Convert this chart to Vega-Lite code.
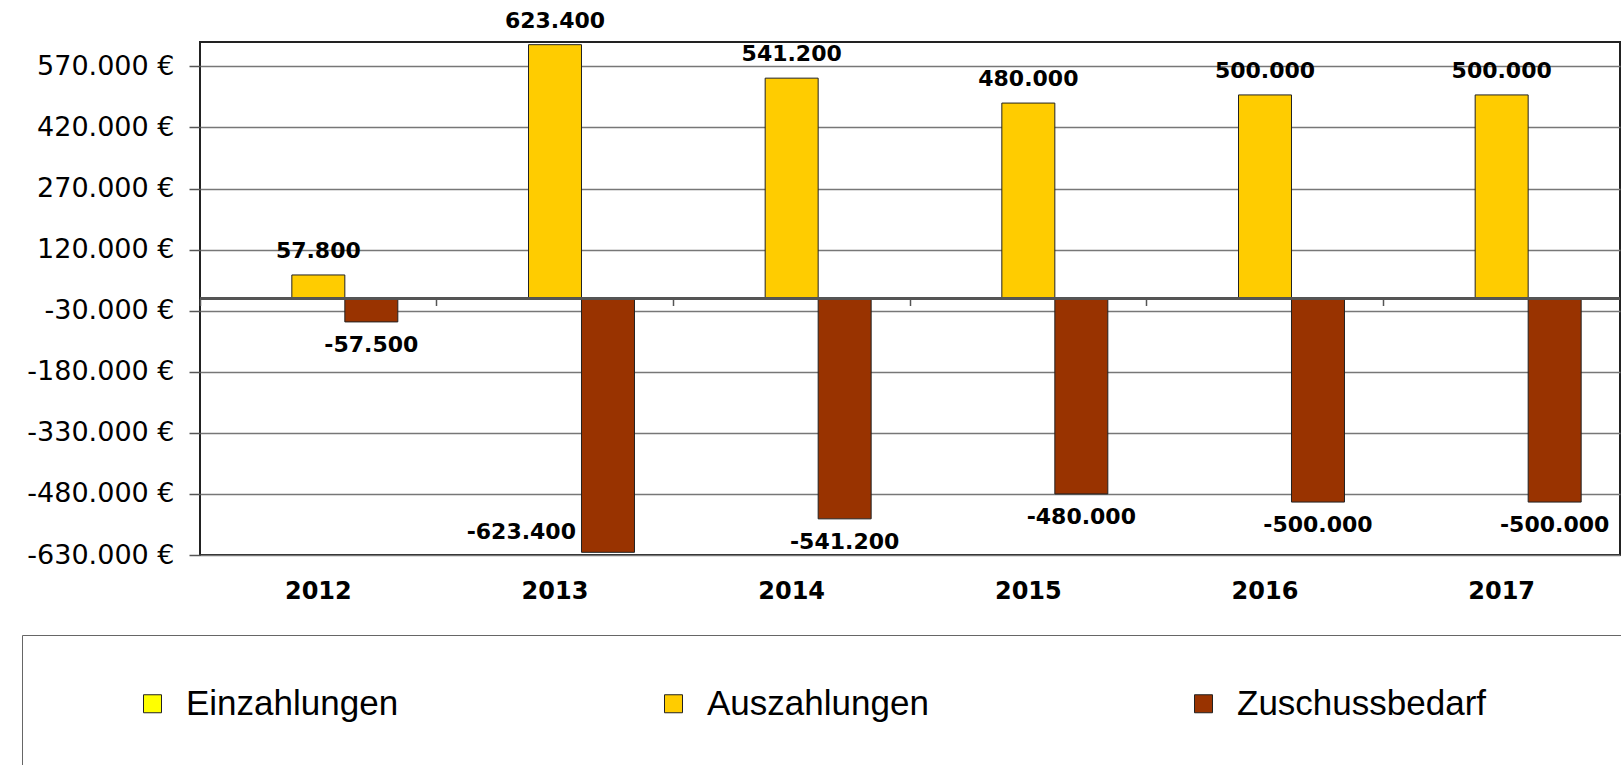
{
  "$schema": "https://vega.github.io/schema/vega-lite/v6.json",
  "autosize": "none",
  "width": 1420,
  "height": 513,
  "padding": {"left": 200, "top": 42, "right": 1, "bottom": 210},
  "background": "white",
  "config": {
    "view": {"stroke": "#222222", "strokeWidth": 2},
    "axis": {"labelColor": "black", "titleColor": "black"}
  },
  "data": {
    "values": [
      {"year": "2012", "series": "Einzahlungen", "value": 0},
      {"year": "2012", "series": "Auszahlungen", "value": 57800},
      {"year": "2012", "series": "Zuschussbedarf", "value": -57500},
      {"year": "2013", "series": "Einzahlungen", "value": 0},
      {"year": "2013", "series": "Auszahlungen", "value": 623400},
      {"year": "2013", "series": "Zuschussbedarf", "value": -623400},
      {"year": "2014", "series": "Einzahlungen", "value": 0},
      {"year": "2014", "series": "Auszahlungen", "value": 541200},
      {"year": "2014", "series": "Zuschussbedarf", "value": -541200},
      {"year": "2015", "series": "Einzahlungen", "value": 0},
      {"year": "2015", "series": "Auszahlungen", "value": 480000},
      {"year": "2015", "series": "Zuschussbedarf", "value": -480000},
      {"year": "2016", "series": "Einzahlungen", "value": 0},
      {"year": "2016", "series": "Auszahlungen", "value": 500000},
      {"year": "2016", "series": "Zuschussbedarf", "value": -500000},
      {"year": "2017", "series": "Einzahlungen", "value": 0},
      {"year": "2017", "series": "Auszahlungen", "value": 500000},
      {"year": "2017", "series": "Zuschussbedarf", "value": -500000}
    ]
  },
  "transform": [
    {"calculate": "(datum.value < 0 ? '-' : '') + replace(format(abs(datum.value), ','), ',', '.')", "as": "label"}
  ],
  "resolve": {"axis": {"x": "independent"}},
  "layer": [
    {
      "transform": [{"filter": "datum.value != 0"}],
      "mark": {"type": "bar", "stroke": "#222222", "strokeWidth": 1},
      "encoding": {
        "x": {
          "field": "year", "type": "nominal",
          "scale": {"paddingInner": 0, "paddingOuter": 0},
          "axis": {
            "orient": "bottom", "title": null, "labelAngle": 0,
            "labelFont": "DejaVu Sans", "labelFontWeight": "bold", "labelFontSize": 24,
            "labelPadding": 24, "labelBaseline": "top", "ticks": false, "domain": false, "grid": false
          }
        },
        "xOffset": {
          "field": "series", "type": "nominal",
          "scale": {"domain": ["Einzahlungen", "Auszahlungen", "Zuschussbedarf"], "paddingInner": 0, "paddingOuter": 0.733}
        },
        "y": {
          "field": "value", "type": "quantitative",
          "scale": {"domain": [-630000, 630000], "nice": false, "zero": false},
          "axis": {
            "title": null,
            "values": [-630000, -480000, -330000, -180000, -30000, 120000, 270000, 420000, 570000],
            "labelExpr": "(datum.value < 0 ? '-' : '') + replace(format(abs(datum.value), ','), ',', '.') + ' €'",
            "labelFont": "DejaVu Sans", "labelFontSize": 27, "labelPadding": 15,
            "tickSize": 11, "tickColor": "#555555", "tickWidth": 1.5,
            "domain": false,
            "grid": true, "gridColor": "#777777", "gridWidth": 1.5
          }
        },
        "color": {
          "field": "series", "type": "nominal",
          "scale": {"domain": ["Einzahlungen", "Auszahlungen", "Zuschussbedarf"], "range": ["#FFFF00", "#FFCC00", "#993300"]},
          "legend": {
            "orient": "none", "legendX": -178, "legendY": 593,
            "direction": "horizontal", "columns": 3, "gridAlign": "each", "columnPadding": 257,
            "symbolType": "square", "symbolSize": 324, "symbolStrokeColor": "#222222", "symbolStrokeWidth": 1,
            "labelFont": "Liberation Sans", "labelFontSize": 35, "labelOffset": 16, "labelColor": "black", "labelLimit": 0,
            "labelExpr": "datum.label == 'Zuschussbedarf' ? datum.label + '                \u200b' : datum.label",
            "padding": 51, "strokeColor": "#666666", "fillColor": "white",
            "title": " ", "titleOrient": "left", "titleFontSize": 1, "titlePadding": 62
          }
        }
      }
    },
    {
      "mark": {"type": "rule", "color": "#555555", "strokeWidth": 1.5},
      "encoding": {"y": {"datum": 0}}
    },
    {
      "transform": [{"filter": "datum.series == 'Auszahlungen'"}],
      "mark": {"type": "text", "font": "DejaVu Sans", "fontWeight": "bold", "fontSize": 22, "color": "black", "baseline": "bottom", "dy": -12},
      "encoding": {
        "x": {
          "field": "year", "type": "nominal",
          "scale": {"paddingInner": 0, "paddingOuter": 0},
          "axis": {
            "orient": "bottom", "offset": -256.5, "title": null, "labels": false,
            "ticks": true, "tickSize": 7, "tickColor": "#555555", "tickWidth": 1.5,
            "domain": false, "grid": false, "bandPosition": 0
          }
        },
        "xOffset": {"field": "series", "type": "nominal", "scale": {"domain": ["Einzahlungen", "Auszahlungen", "Zuschussbedarf"], "paddingInner": 0, "paddingOuter": 0.733}},
        "y": {"field": "value", "type": "quantitative"},
        "text": {"field": "label"}
      }
    },
    {
      "transform": [{"filter": "datum.series == 'Zuschussbedarf' && datum.value > -600000"}],
      "mark": {"type": "text", "font": "DejaVu Sans", "fontWeight": "bold", "fontSize": 22, "color": "black", "baseline": "top", "dy": 13},
      "encoding": {
        "x": {"field": "year", "type": "nominal", "axis": null},
        "xOffset": {"field": "series", "type": "nominal", "scale": {"domain": ["Einzahlungen", "Auszahlungen", "Zuschussbedarf"], "paddingInner": 0, "paddingOuter": 0.733}},
        "y": {"field": "value", "type": "quantitative"},
        "text": {"field": "label"}
      }
    },
    {
      "transform": [{"filter": "datum.series == 'Zuschussbedarf' && datum.value <= -600000"}],
      "mark": {"type": "text", "font": "DejaVu Sans", "fontWeight": "bold", "fontSize": 22, "color": "black", "baseline": "middle", "align": "right", "dx": -32, "dy": -20},
      "encoding": {
        "x": {"field": "year", "type": "nominal", "axis": null},
        "xOffset": {"field": "series", "type": "nominal", "scale": {"domain": ["Einzahlungen", "Auszahlungen", "Zuschussbedarf"], "paddingInner": 0, "paddingOuter": 0.733}},
        "y": {"field": "value", "type": "quantitative"},
        "text": {"field": "label"}
      }
    }
  ]
}
